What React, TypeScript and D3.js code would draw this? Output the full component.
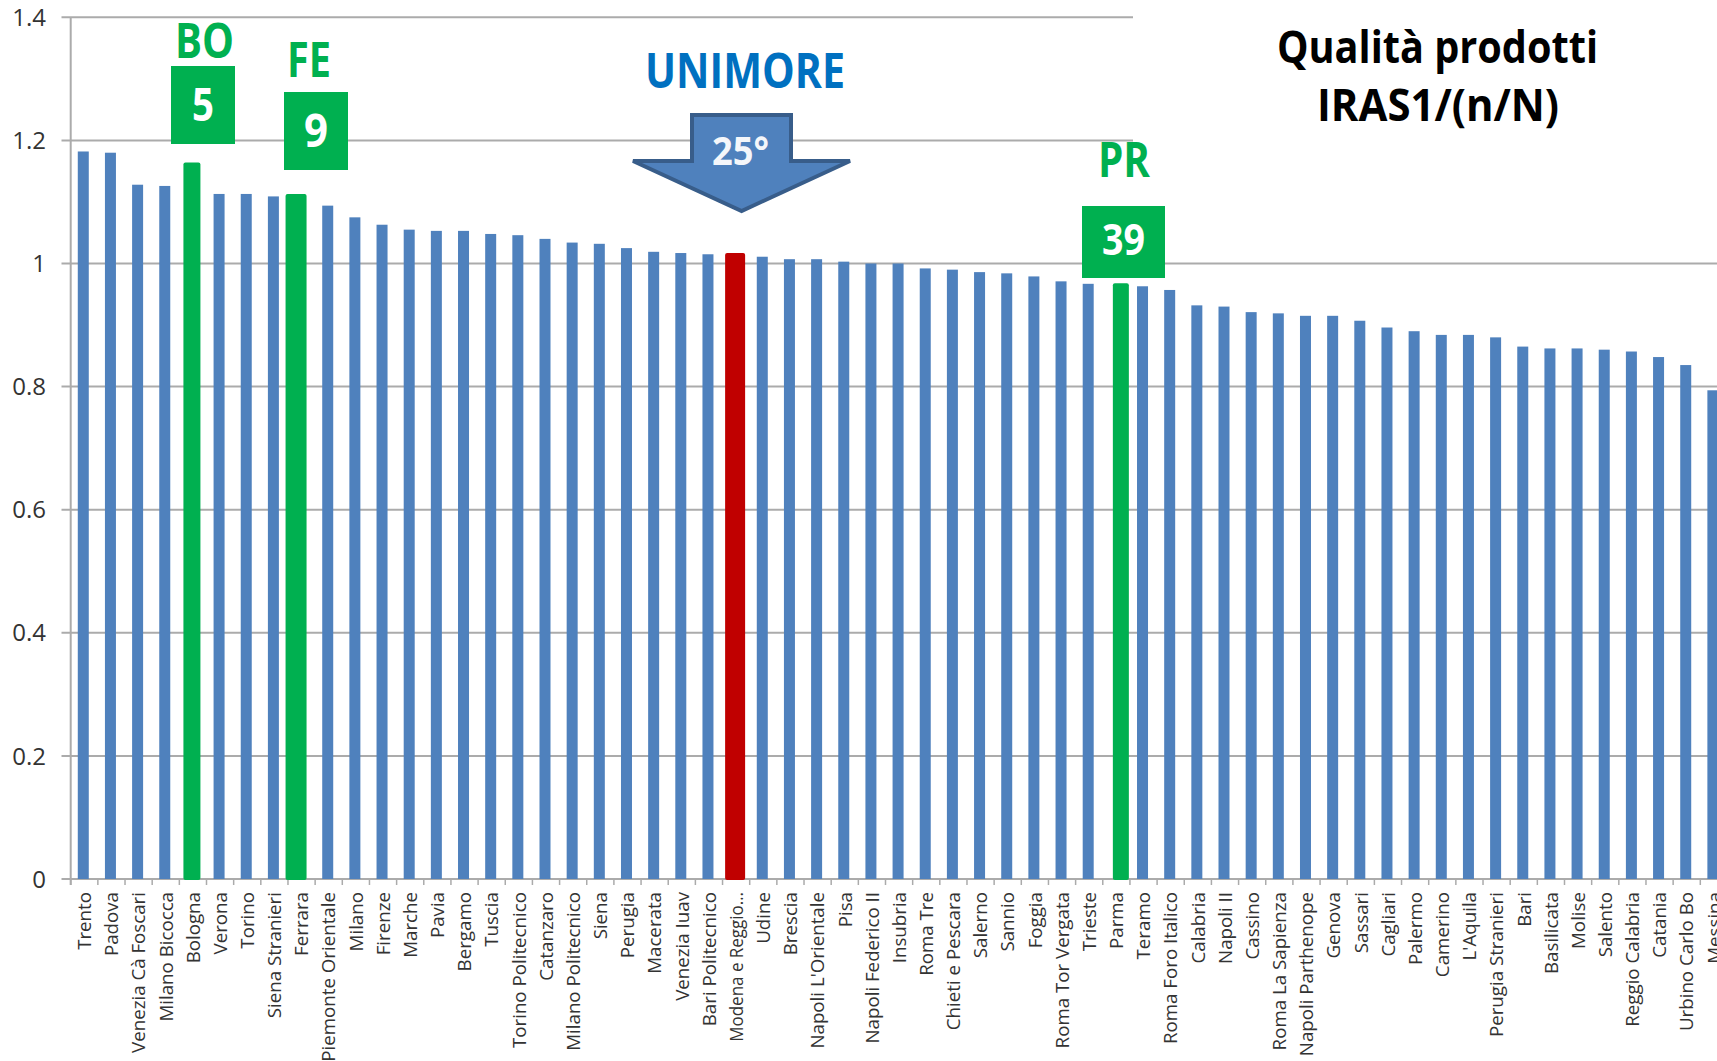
import React from "react";
import * as d3 from "d3";

const categories = ["Trento","Padova","Venezia Cà Foscari","Milano Bicocca","Bologna","Verona","Torino","Siena Stranieri","Ferrara","Piemonte Orientale","Milano","Firenze","Marche","Pavia","Bergamo","Tuscia","Torino Politecnico","Catanzaro","Milano Politecnico","Siena","Perugia","Macerata","Venezia Iuav","Bari Politecnico","Modena e Reggio…","Udine","Brescia","Napoli L'Orientale","Pisa","Napoli Federico II","Insubria","Roma Tre","Chieti e Pescara","Salerno","Sannio","Foggia","Roma Tor Vergata","Trieste","Parma","Teramo","Roma Foro Italico","Calabria","Napoli II","Cassino","Roma La Sapienza","Napoli Parthenope","Genova","Sassari","Cagliari","Palermo","Camerino","L'Aquila","Perugia Stranieri","Bari","Basilicata","Molise","Salento","Reggio Calabria","Catania","Urbino Carlo Bo","Messina"];
const values = [1.182,1.18,1.128,1.126,1.164,1.113,1.113,1.109,1.113,1.094,1.075,1.063,1.055,1.053,1.053,1.048,1.046,1.04,1.034,1.032,1.025,1.019,1.017,1.015,1.017,1.011,1.007,1.007,1.003,1,1,0.992,0.99,0.986,0.984,0.979,0.971,0.967,0.968,0.963,0.957,0.932,0.93,0.921,0.919,0.915,0.915,0.907,0.896,0.89,0.884,0.884,0.88,0.865,0.862,0.862,0.86,0.857,0.848,0.835,0.794];
const yTicks = [0,0.2,0.4,0.6,0.8,1,1.2,1.4];
const shortGrid = [1.2,1.4];
const highlight: Record<string,{fill:string;w:number;dx:number}> = {
  "Bologna":{fill:"#00b050",w:17,dx:0},
  "Ferrara":{fill:"#00b050",w:21,dx:-4.5},
  "Parma":{fill:"#00b050",w:16,dx:5.5},
  "Modena e Reggio…":{fill:"#c00000",w:20,dx:0},
};

const W=1717,H=1061;
const x0=69.7, step=27.16;
const x=d3.scaleBand<string>().domain(categories).range([x0,x0+step*categories.length]);
const y=d3.scaleLinear().domain([0,1.4]).range([879,17.3]);
const ff="'Open Sans',sans-serif";
const arrow=d3.line()([[692,115],[791,115],[791,161],[850,161],[741.6,211],[633,161],[692,161]])+"Z";

function Stretch({t,x1,x2,base,size,fill,weight=700}:{t:string;x1:number;x2:number;base:number;size:number;fill:string;weight?:number}){
  return <text x={x1} y={base} textLength={x2-x1} lengthAdjust="spacingAndGlyphs" fontSize={size} fontWeight={weight} fontFamily={ff} fill={fill}>{t}</text>;
}

export default function App(){
  return <svg width={W} height={H} viewBox={`0 0 ${W} ${H}`} style={{position:"absolute",left:0,top:0,background:"#fff",display:"block"}}>
    {yTicks.map(t=>{const e=shortGrid.includes(t)?1133:W;return <g key={t}>
      <line x1={61.5} x2={t===0?W:e} y1={y(t)} y2={y(t)} stroke="#ababab" strokeWidth={2}/>
      <text x={46} y={y(t)} dy="0.36em" textAnchor="end" fontFamily={ff} fontSize={24} fill="#333">{t}</text>
    </g>})}
    <line x1={70.7} x2={70.7} y1={17} y2={885} stroke="#ababab" strokeWidth={2}/>
    {categories.map((c,i)=>{const bx=x(c)!+x.bandwidth()/2;const h=highlight[c];const w=h?h.w:11;const cx=bx+(h?h.dx:0);const isCut=c.endsWith("…");return <g key={c}>
      <line x1={x(c)!+1} x2={x(c)!+1} y1={879} y2={885} stroke="#ababab" strokeWidth={1.5}/>
      <rect x={cx-w/2} y={y(values[i])} width={w} height={y(0)-y(values[i])+(h?1:0)} fill={h?h.fill:"#4f81bd"} rx={h?2:0}/>
      <text transform={`translate(${bx+1},892) rotate(-90) scale(1.07,1)`} textAnchor="end" dominantBaseline="central" fontFamily={ff} fontSize={17.5} fill="#333" textLength={isCut?140:undefined} lengthAdjust={isCut?"spacingAndGlyphs":undefined}>{c}</text>
    </g>})}
    <Stretch t="BO" x1={175} x2={234} base={58} size={49} fill="#00b050"/>
    <Stretch t="FE" x1={287} x2={331} base={77} size={49} fill="#00b050"/>
    <Stretch t="PR" x1={1098} x2={1150} base={177} size={49} fill="#00b050"/>
    <rect x={171} y={66} width={64} height={78} fill="#00b050"/>
    <rect x={284} y={92} width={64} height={78} fill="#00b050"/>
    <rect x={1082} y={206} width={83} height={72} fill="#00b050"/>
    <Stretch t="5" x1={192} x2={214} base={121} size={46} fill="#fff"/>
    <Stretch t="9" x1={304} x2={328} base={147} size={46} fill="#fff"/>
    <Stretch t="39" x1={1102} x2={1145} base={255} size={43} fill="#fff"/>
    <Stretch t="UNIMORE" x1={645} x2={845} base={88} size={48} fill="#0070c0"/>
    <path d={arrow} fill="#4f81bd" stroke="#385d8a" strokeWidth={4}/>
    <Stretch t="25°" x1={712} x2={769} base={165} size={39} fill="#f4f6fa"/>
    <Stretch t="Qualità prodotti" x1={1277} x2={1598} base={63} size={44} fill="#000"/>
    <Stretch t="IRAS1/(n/N)" x1={1317} x2={1559} base={121} size={44} fill="#000"/>
  </svg>;
}
